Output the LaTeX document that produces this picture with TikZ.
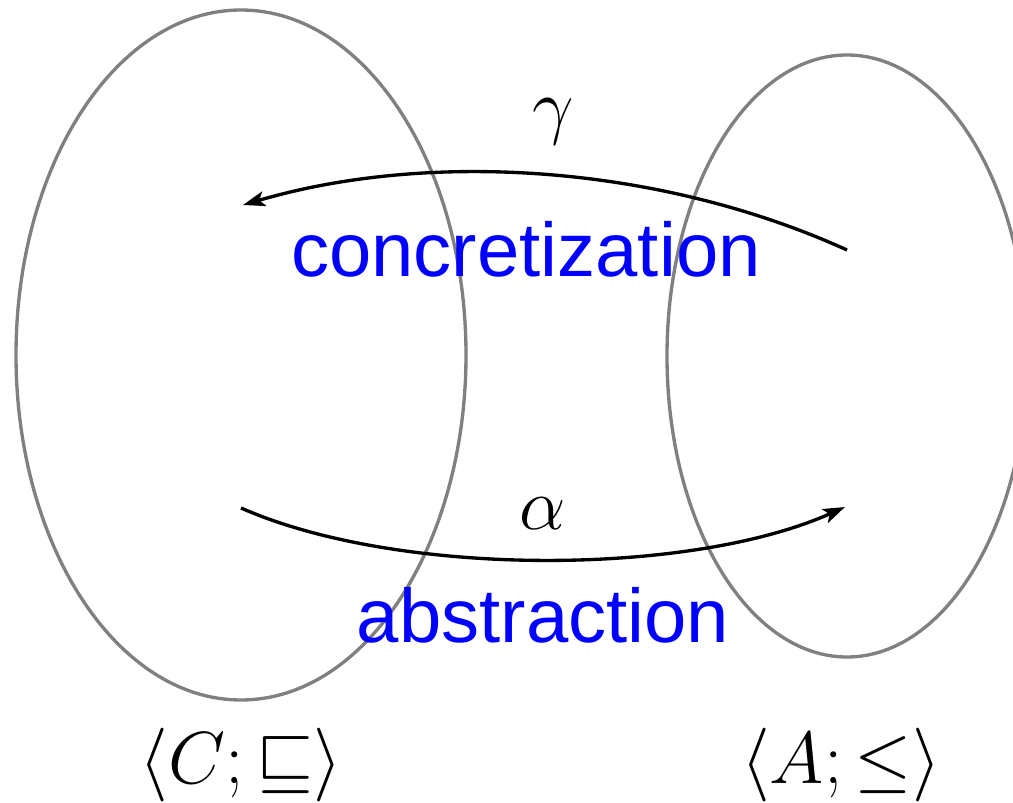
\RequirePackage{fix-cm}
\documentclass[tikz,border=0pt]{standalone}
\usepackage{amssymb}
\usepackage{fontspec}
\newfontfamily\labelsans{Liberation Sans}
\usetikzlibrary{arrows.meta}
\definecolor{ringgray}{RGB}{128,128,128}
\tikzset{
  ring/.style={draw=ringgray, line width=1.9pt},
  mapping/.style={draw=black, line width=1.9pt, -{Stealth[length=0.44cm,width=0.3cm,inset=0.1cm]}},
  mathlbl/.style={inner sep=0pt, font=\fontsize{42}{50}\selectfont},
  wordlbl/.style={inner sep=0pt, anchor=base, text=blue, font=\labelsans\fontsize{43.3}{50}\selectfont}
}
\begin{document}
\begin{tikzpicture}[x=0.02cm,y=-0.02cm]
\useasboundingbox (0,0) rectangle (1013,803);
\draw[ring] (241,355) ellipse [x radius=225, y radius=345];
\draw[ring] (847,356) ellipse [x radius=180, y radius=301];
\coordinate (gs) at (847,250);
\coordinate (ge) at (243,205);
\coordinate (as) at (241,508);
\coordinate (ae) at (845,507);
\draw[mapping] (gs) .. controls (660,165) and (430,150) .. (ge);
\draw[mapping] (as) .. controls (400,578) and (691,576) .. (ae);
\node[mathlbl] (gamma) at (553,122) {$\gamma$};
\node[mathlbl] (alpha) at (543,514) {$\alpha$};
\node[wordlbl] (conc) at (526,277) {concretization};
\node[wordlbl] (abst) at (543,642) {abstraction};
\node[mathlbl] (cset) at (241,765) {$\langle C;\sqsubseteq\rangle$};
\node[mathlbl] (aset) at (841,765) {$\langle A;\leq\rangle$};
\end{tikzpicture}
\end{document}
